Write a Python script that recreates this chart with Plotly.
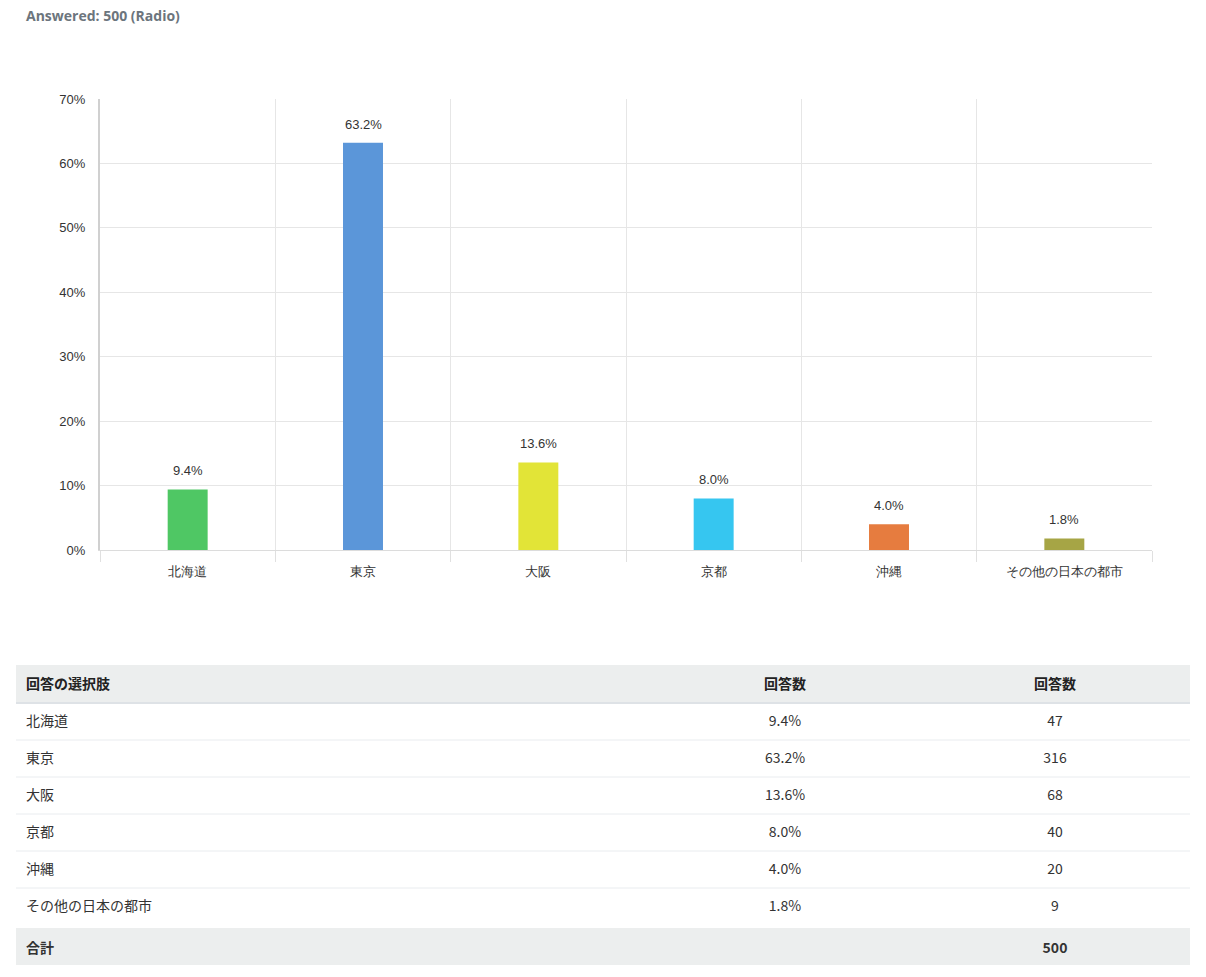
import plotly.graph_objects as go

categories = ["北海道", "東京", "大阪", "京都", "沖縄", "その他の日本の都市"]
percents = [9.4, 63.2, 13.6, 8.0, 4.0, 1.8]
counts = [47, 316, 68, 40, 20, 9]
total = 500
bar_colors = ["#4fc764", "#5b96d9", "#e2e437", "#36c6f0", "#e67c3f", "#a6a545"]
y_ticks = [0, 10, 20, 30, 40, 50, 60, 70]
header_labels = ["回答の選択肢", "回答数", "回答数"]
total_label = "合計"
answered_text = "Answered: 500 (Radio)"

W, H = 1206, 977
CHART_FONT = "Liberation Sans, Arial, sans-serif"
TABLE_FONT = "Noto Sans CJK JP, Noto Sans, sans-serif"

fig = go.Figure()

fig.add_trace(go.Bar(
    x=categories, y=percents,
    marker=dict(color=bar_colors, line=dict(width=0)),
    hoverinfo="skip",
    showlegend=False,
))

for c, v in zip(categories, percents):
    fig.add_annotation(x=c, y=v, xref="x", yref="y", text=f"{v:.1f}%",
                       showarrow=False, yanchor="bottom", yshift=9,
                       font=dict(family=CHART_FONT, size=13, color="#333333"))

# table
col1 = categories + [f"<b>{total_label}</b>"]
col2 = [f"{v:.1f}%" for v in percents] + [""]
col3 = [str(n) for n in counts] + [f"<b>{total}</b>"]

tbl_top, tbl_bottom = 665, 965
tbl_left, tbl_right = 16, 1190
hdr_h, row_h = 38, 37
fig.add_trace(go.Table(
    domain=dict(x=[(tbl_left + 2) / W, tbl_right / W], y=[1 - (tbl_bottom + 6) / H, 1 - tbl_top / H]),
    columnwidth=[632, 270, 270],
    header=dict(values=[f"<b>{h}</b>" for h in header_labels],
                fill_color="rgba(0,0,0,0)", line=dict(color="rgba(0,0,0,0)", width=1),
                align=["left", "center", "center"], height=hdr_h + 4,
                font=dict(family=TABLE_FONT, size=14, color="#222222")),
    cells=dict(values=[col1, col2, col3],
               fill_color="rgba(0,0,0,0)",
               line=dict(color="rgba(0,0,0,0)", width=1),
               align=["left", "center", "center"], height=row_h,
               font=dict(family=TABLE_FONT, size=14, color="#333333")),
))

def py(p):
    return 1 - p / H

shapes = []
# header background and total row background
shapes.append(dict(type="rect", xref="paper", yref="paper", layer="below",
                   x0=tbl_left / W, x1=tbl_right / W, y0=py(tbl_top + hdr_h), y1=py(tbl_top),
                   fillcolor="#eceeee", line=dict(width=0)))
shapes.append(dict(type="rect", xref="paper", yref="paper", layer="below",
                   x0=tbl_left / W, x1=tbl_right / W, y0=py(tbl_bottom), y1=py(tbl_bottom - row_h),
                   fillcolor="#eceeee", line=dict(width=0)))
# row separators
for i in range(len(categories)):
    yy = tbl_top + hdr_h + row_h * i
    shapes.append(dict(type="line", xref="paper", yref="paper", layer="below",
                       x0=tbl_left / W, x1=tbl_right / W, y0=py(yy), y1=py(yy),
                       line=dict(color="#dee2e6" if i == 0 else "#e9ecef", width=2 if i == 0 else 1)))

fig.add_annotation(x=24 / W, y=py(15), xref="paper", yref="paper", text=f"<b>{answered_text}</b>",
                   showarrow=False, xanchor="left", yanchor="middle",
                   font=dict(family="Open Sans, sans-serif", size=14, color="#6c757d"))

fig.update_layout(
    width=W, height=H,
    margin=dict(l=0, r=0, t=0, b=0, autoexpand=False),
    paper_bgcolor="white", plot_bgcolor="white",
    bargap=0.772,
    shapes=shapes,
    xaxis=dict(domain=[100 / W, 1152 / W], type="category", tickson="boundaries",
               automargin=False,
               showgrid=True, gridcolor="#e6e6e6", gridwidth=1,
               ticks="outside", ticklen=11, tickcolor="#e0e0e0", tickwidth=1,
               ticklabelstandoff=9,
               showline=True, linecolor="#dcdcdc", linewidth=1,
               tickfont=dict(family=CHART_FONT, size=13, color="#333333"),
               anchor="y", fixedrange=True),
    yaxis=dict(domain=[py(550), py(99)], range=[0, 70],
               automargin=False,
               tickvals=y_ticks, ticktext=[f"{t}%" for t in y_ticks],
               showgrid=True, gridcolor="#e6e6e6", gridwidth=1,
               showline=True, linecolor="#d0d0d0", linewidth=2,
               ticks="", ticklabelstandoff=10, zeroline=False,
               tickfont=dict(family=CHART_FONT, size=13, color="#333333"),
               anchor="x", fixedrange=True),
)

fig.write_html("out.html", config={"displayModeBar": False},
               post_script="document.body.style.margin='0';document.body.style.overflow='hidden';")
